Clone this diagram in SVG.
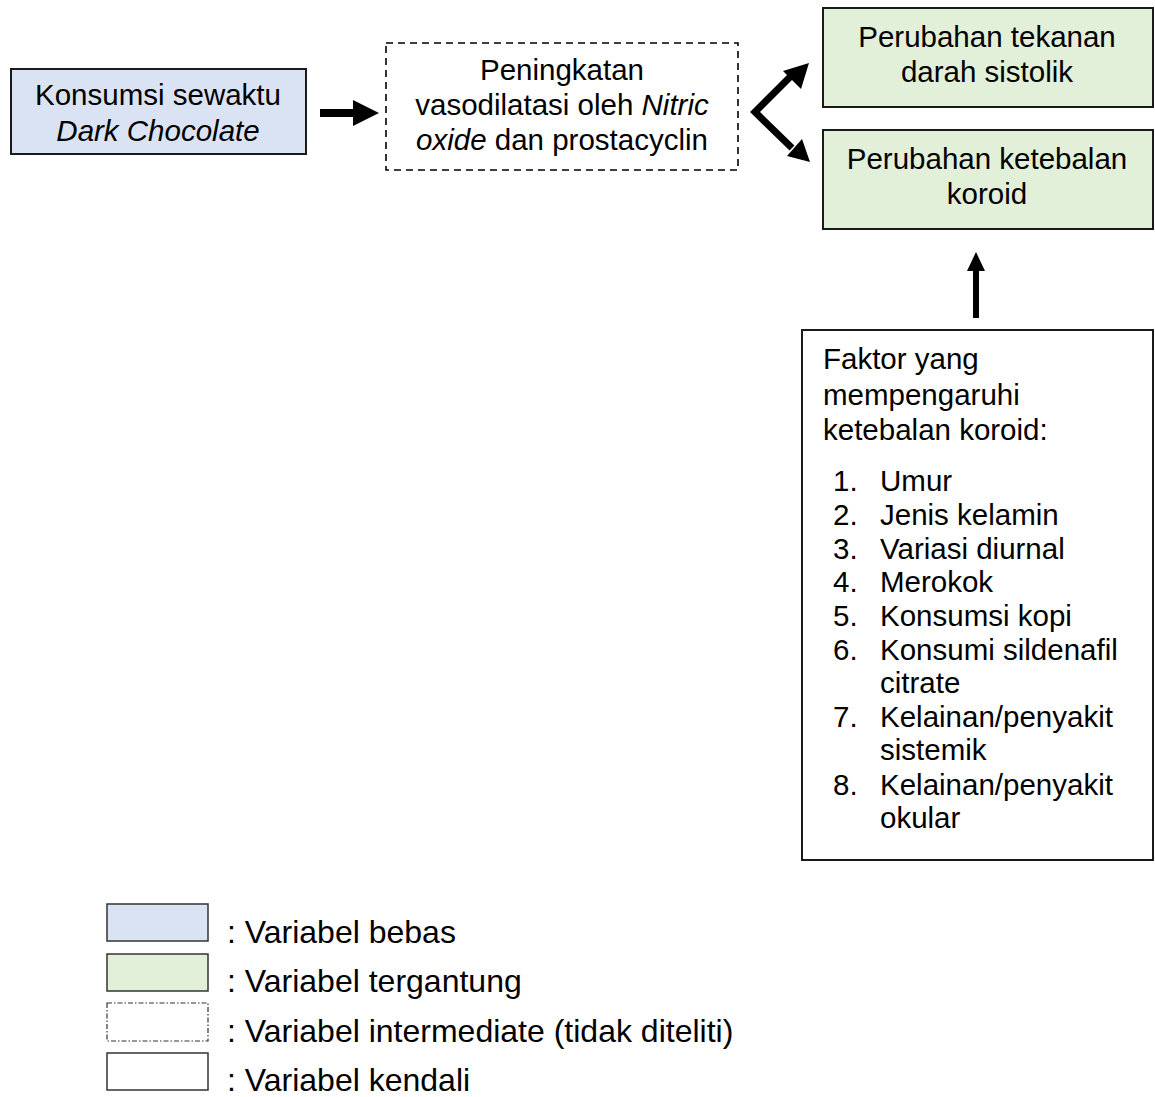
<svg xmlns="http://www.w3.org/2000/svg" width="1155" height="1097" viewBox="0 0 1155 1097">
<style>
text{font-family:"Liberation Sans",Arial,sans-serif;font-size:29.5px;fill:#000}
.c{text-anchor:middle}
.it{font-style:italic}
.lg{font-size:32px}
.box{stroke:#1a1a1a;stroke-width:2}
.blue{fill:#dae3f3}
.green{fill:#e2efd9}
.dash{fill:#fff;stroke:#000;stroke-width:1.6;stroke-dasharray:7 5}
.white{fill:#fff}
.arr{stroke:#000;stroke-width:7;fill:none}
.head{fill:#000}
</style>
<rect width="1155" height="1097" fill="#fff"/>
<g id="node-konsumsi">
<rect class="box blue" x="11" y="69" width="295" height="85"/>
<text class="c" x="158" y="105">Konsumsi sewaktu</text>
<text class="c it" x="158" y="141">Dark Chocolate</text>
</g>
<g id="node-peningkatan">
<rect class="dash" x="386" y="43" width="352" height="127"/>
<text class="c" x="562" y="80">Peningkatan</text>
<text class="c" x="562" y="115">vasodilatasi oleh <tspan class="it">Nitric</tspan></text>
<text class="c" x="562" y="150"><tspan class="it">oxide</tspan> dan prostacyclin</text>
</g>
<g id="node-tekanan">
<rect class="box green" x="823" y="8" width="330" height="99"/>
<text class="c" x="987" y="47">Perubahan tekanan</text>
<text class="c" x="987" y="82">darah sistolik</text>
</g>
<g id="node-koroid">
<rect class="box green" x="823" y="130" width="330" height="99"/>
<text class="c" x="987" y="169">Perubahan ketebalan</text>
<text class="c" x="987" y="204">koroid</text>
</g>
<g id="node-faktor">
<rect class="box white" x="802" y="330" width="351" height="530"/>
<text x="823" y="369">Faktor yang</text>
<text x="823" y="405">mempengaruhi</text>
<text x="823" y="440">ketebalan koroid:</text>
<text x="833" y="491">1.</text><text x="880" y="491">Umur</text>
<text x="833" y="525">2.</text><text x="880" y="525">Jenis kelamin</text>
<text x="833" y="559">3.</text><text x="880" y="559">Variasi diurnal</text>
<text x="833" y="592">4.</text><text x="880" y="592">Merokok</text>
<text x="833" y="626">5.</text><text x="880" y="626">Konsumsi kopi</text>
<text x="833" y="660">6.</text><text x="880" y="660">Konsumi sildenafil</text>
<text x="880" y="693">citrate</text>
<text x="833" y="727">7.</text><text x="880" y="727">Kelainan/penyakit</text>
<text x="880" y="760">sistemik</text>
<text x="833" y="795">8.</text><text x="880" y="795">Kelainan/penyakit</text>
<text x="880" y="828">okular</text>
</g>
<g id="connectors">
<rect x="320" y="109" width="35" height="8" class="head"/>
<polygon class="head" points="353,100 379,113 353,126"/>
<polyline class="arr" points="790,77 755,112 792,148" stroke-linejoin="miter"/>
<polygon class="head" points="809,63 801,89 783,71"/>
<polygon class="head" points="810,162 787,156 802,139"/>
<rect x="973" y="268" width="6" height="50" class="head"/>
<polygon class="head" points="976,252 985,271 967,271"/>
</g>
<g id="legend">
<rect x="107" y="904" width="101" height="37" fill="#dae3f3" stroke="#333" stroke-width="1.5"/>
<text class="lg" x="227" y="943">: Variabel bebas</text>
<rect x="107" y="954" width="101" height="37" fill="#e2efd9" stroke="#333" stroke-width="1.5"/>
<text class="lg" x="227" y="992">: Variabel tergantung</text>
<rect x="107" y="1003" width="101" height="38" fill="#fff" stroke="#333" stroke-width="1.2" stroke-dasharray="5 2 1.5 2"/>
<text class="lg" x="227" y="1042">: Variabel intermediate (tidak diteliti)</text>
<rect x="107" y="1053" width="101" height="37" fill="#fff" stroke="#333" stroke-width="1.5"/>
<text class="lg" x="227" y="1091">: Variabel kendali</text>
</g>
</svg>
